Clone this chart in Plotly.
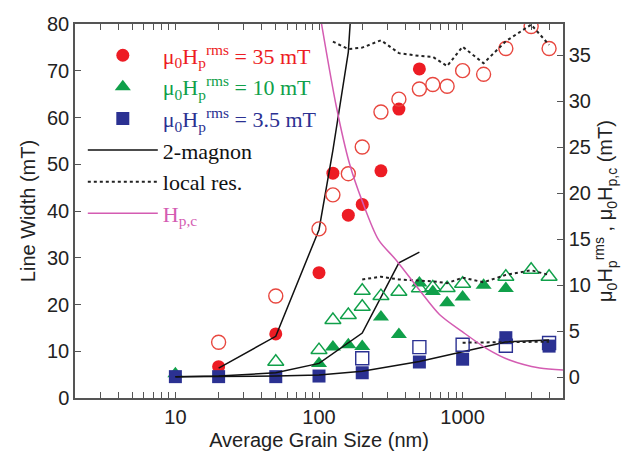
import plotly.graph_objects as go

# ---------------- data ----------------
# filled symbols: line width (left axis, mT)
red_filled_x = [20, 50, 100, 125, 160, 200, 270, 360, 500]
red_filled_y = [6.7, 13.7, 26.8, 48.1, 39.1, 41.4, 48.6, 61.8, 70.4]
green_filled_x = [10, 100, 125, 160, 200, 270, 360, 500, 620, 780, 1000, 1400, 2000]
green_filled_y = [5.2, 7.4, 10.9, 11.4, 11.0, 17.3, 13.6, 24.6, 22.8, 20.4, 21.6, 24.1, 23.4]
blue_filled_x = [10, 20, 50, 100, 200, 500, 1000, 2000, 4000]
blue_filled_y = [4.57, 4.57, 4.57, 4.7, 5.4, 7.7, 8.3, 12.9, 11.1]

# open symbols (right axis, mT)
red_open_x = [20, 50, 100, 125, 160, 200, 270, 360, 500, 620, 780, 1000, 1400, 2000, 3000, 4000]
red_open_y = [3.77, 8.8, 16.1, 19.8, 22.1, 25.0, 28.8, 30.2, 31.3, 31.8, 31.6, 33.3, 32.9, 35.7, 38.1, 35.7]
green_open_x = [50, 100, 125, 160, 200, 200, 270, 360, 500, 620, 780, 1000, 2000, 3000, 4000]
green_open_y = [1.66, 2.93, 6.2, 6.74, 7.64, 9.38, 8.8, 9.27, 9.64, 9.75, 9.67, 10.14, 10.9, 11.66, 10.9]
blue_open_x = [200, 500, 1000, 2000, 4000]
blue_open_y = [2.03, 3.25, 3.5, 3.4, 3.7]

# 2-magnon model (left axis)
tm_red_x = [20, 50, 100, 125, 160, 200]
tm_red_y = [6.4, 13.2, 36, 53, 74, 120]
tm_green_x = [10, 20, 50, 100, 200, 270, 360, 500]
tm_green_y = [4.57, 4.7, 5.4, 7.4, 13.9, 21.7, 28.9, 31.2]
tm_blue_x = [10, 20, 50, 100, 200, 500, 1000, 2000, 4000]
tm_blue_y = [4.57, 4.57, 4.7, 4.9, 5.7, 7.8, 9.9, 12.0, 12.4]

# local resonance model (right axis)
lr_red_x = [125, 160, 200, 270, 360, 500, 620, 780, 1000, 1400, 2000, 3000, 4000]
lr_red_y = [36.45, 35.65, 35.8, 36.6, 35.2, 34.9, 34.8, 33.8, 35.9, 34.1, 36.5, 38.3, 36.1]
lr_green_x = [200, 270, 360, 500, 620, 780, 1000, 1400, 2000, 3000, 4000]
lr_green_y = [10.6, 10.9, 10.6, 10.5, 10.4, 10.2, 10.8, 10.3, 11.1, 11.6, 11.1]
lr_blue_x = [1000, 2000, 4000]
lr_blue_y = [3.73, 3.8, 3.84]

# critical field H_p,c (right axis)
hpc_x = [100, 132, 163, 199, 260, 345, 500, 690, 1000, 1460, 2120, 3440, 5000]
hpc_y = [40.0, 29.4, 23.2, 19.2, 14.9, 12.7, 9.46, 6.8, 4.9, 3.12, 1.85, 0.98, 0.76]

x_ticks = [10, 100, 1000]
x_minor = [m * d for d in (1, 10, 100, 1000) for m in range(2, 10) if m * d <= 5000]
left_ticks = list(range(0, 81, 10))
right_ticks = list(range(0, 36, 5))

RED = '#ed1c24'
RED_OPEN = '#e8473f'
GREEN = '#10a04a'
BLUE = '#2b3192'
MAGENTA = '#d45cb2'
AX = '#555555'

fig = go.Figure()

# open symbols (right axis)
fig.add_trace(go.Scatter(x=red_open_x, y=red_open_y, yaxis='y2', mode='markers', showlegend=False,
                         marker=dict(symbol='circle-open', size=14, color=RED_OPEN, line=dict(width=1.4))))
fig.add_trace(go.Scatter(x=green_open_x, y=green_open_y, yaxis='y2', mode='markers', showlegend=False,
                         marker=dict(symbol='triangle-up-open', size=14, color=GREEN, line=dict(width=1.4))))
fig.add_trace(go.Scatter(x=blue_open_x, y=blue_open_y, yaxis='y2', mode='markers', showlegend=False,
                         marker=dict(symbol='square-open', size=13, color=BLUE, line=dict(width=1.4))))

# filled symbols (left axis)
lab = 'μ<sub>0</sub>H<sub>p</sub><sup>rms</sup> = '
fig.add_trace(go.Scatter(x=red_filled_x, y=red_filled_y, mode='markers', legendrank=1,
                         name='<span style="color:%s">%s35 mT</span>' % (RED, lab),
                         marker=dict(symbol='circle', size=13, color=RED)))
fig.add_trace(go.Scatter(x=green_filled_x, y=green_filled_y, mode='markers', legendrank=2,
                         name='<span style="color:%s">%s10 mT</span>' % (GREEN, lab),
                         marker=dict(symbol='triangle-up', size=14, color=GREEN)))
fig.add_trace(go.Scatter(x=blue_filled_x, y=blue_filled_y, mode='markers', legendrank=3,
                         name='<span style="color:%s">%s3.5 mT</span>' % (BLUE, lab),
                         marker=dict(symbol='square', size=13, color=BLUE)))

# 2-magnon lines
line_tm = dict(color='#111111', width=1.5)
fig.add_trace(go.Scatter(x=tm_red_x, y=tm_red_y, mode='lines', line=line_tm, legendrank=4,
                         name='<span style="color:#111">2-magnon</span>'))
fig.add_trace(go.Scatter(x=tm_green_x, y=tm_green_y, mode='lines', line=line_tm, showlegend=False))
fig.add_trace(go.Scatter(x=tm_blue_x, y=tm_blue_y, mode='lines', line=line_tm, showlegend=False))

# local resonance lines
line_lr = dict(color='#222222', width=2, dash='dot')
fig.add_trace(go.Scatter(x=lr_red_x, y=lr_red_y, yaxis='y2', mode='lines', line=line_lr, legendrank=5,
                         name='<span style="color:#111">local res.</span>'))
fig.add_trace(go.Scatter(x=lr_green_x, y=lr_green_y, yaxis='y2', mode='lines', line=line_lr, showlegend=False))
fig.add_trace(go.Scatter(x=lr_blue_x, y=lr_blue_y, yaxis='y2', mode='lines', line=line_lr, showlegend=False))

# H_p,c
fig.add_trace(go.Scatter(x=hpc_x, y=hpc_y, yaxis='y2', mode='lines', legendrank=6,
                         line=dict(color=MAGENTA, width=1.5, shape='spline', smoothing=0.8),
                         name='<span style="color:%s">H<sub>p,c</sub></span>' % MAGENTA))

TF = dict(family='Arial, Liberation Sans, sans-serif', size=20, color='#222222')

fig.update_layout(
    width=634, height=453,
    margin=dict(l=75, r=71, t=24, b=55),
    paper_bgcolor='white', plot_bgcolor='white',
    font=TF,
    showlegend=True,
    legend=dict(x=0.016, y=0.972, xanchor='left', yanchor='top',
                bgcolor='rgba(0,0,0,0)', borderwidth=0, itemwidth=70,
                font=dict(family='Liberation Serif, Times New Roman, serif', size=22, color='#111')),
    xaxis=dict(type='log', range=[0.30103, 3.69897], tickvals=x_ticks, ticktext=['10', '100', '1000'],
               ticks='inside', ticklen=6, tickwidth=1.2, tickcolor=AX, automargin=False,
               minor=dict(tickvals=x_minor, ticks='inside', ticklen=4, tickcolor=AX, tickwidth=1.2),
               showline=True, linecolor=AX, linewidth=1.5, mirror='allticks',
               showgrid=False, zeroline=False, tickfont=TF,
               title=dict(text='Average Grain Size (nm)', font=TF, standoff=6)),
    yaxis=dict(range=[0, 80], tickvals=left_ticks, ticks='inside', ticklen=6, tickwidth=1.2, tickcolor=AX,
               showline=True, linecolor=AX, linewidth=1.5, mirror=False, automargin=False,
               showgrid=False, zeroline=False, tickfont=TF,
               title=dict(text='Line Width (mT)', font=TF, standoff=6)),
    yaxis2=dict(range=[-2.283, 38.37], overlaying='y', side='right', tickvals=right_ticks,
                ticks='inside', ticklen=6, tickwidth=1.2, tickcolor=AX, automargin=False,
                showline=True, linecolor=AX, linewidth=1.5,
                showgrid=False, zeroline=False, tickfont=TF,
                title=dict(text='μ<sub>0</sub>H<sub>p</sub><sup>rms</sup> , μ<sub>0</sub>H<sub>p,c</sub> (mT)',
                           font=TF, standoff=8)),
)

fig.write_html('out.html', config={'displayModeBar': False},
               post_script="document.body.style.margin='0';document.body.style.overflow='hidden';")
